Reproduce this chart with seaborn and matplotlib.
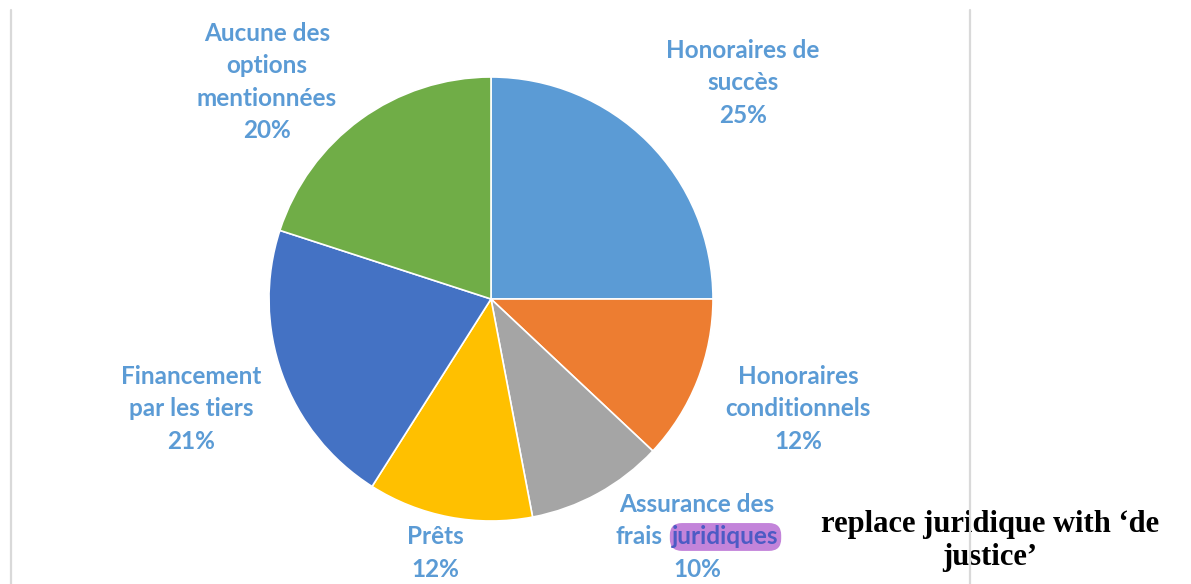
import numpy as np
import pandas as pd
import seaborn as sns
import matplotlib.pyplot as plt
from matplotlib.lines import Line2D

# slice data, clockwise from 12 o'clock
labels = ["Honoraires de\nsuccès", "Honoraires\nconditionnels", "Assurance des\nfrais juridiques",
          "Prêts", "Financement\npar les tiers", "Aucune des\noptions\nmentionnées"]
shares = [25, 12, 10, 12, 21, 20]
colors = ["#5B9BD5", "#ED7D31", "#A5A5A5", "#FFC000", "#4472C4", "#70AD47"]

# label anchor points (in pie radius units)
label_x = [1.135, 1.383, 0.928, -0.252, -1.351, -1.009]
label_y = [0.973, -0.495, -1.072, -1.144, -0.495, 0.977]

highlight_idx = 2  # label with the highlighted word
note = "replace juridique with \u2018de\njustice\u2019"

sns.set_theme(style="white")
plt.rcParams['font.family'] = ['Lato', 'DejaVu Sans']

W, H = 1191, 584
fig = plt.figure(figsize=(W / 100, H / 100), dpi=100)
ax = fig.add_axes([0, 0, 1, 1])

df = pd.DataFrame({"label": labels, "share": shares})
ax.pie(df["share"], colors=colors, startangle=90, counterclock=False,
       wedgeprops={"linewidth": 1.2, "edgecolor": "white"})

# map the pie so that centre sits at (491, 299) px and radius is 222 px
r_px, cx, cy = 222, 491, 299
ax.set_aspect('auto')
ax.set_xlim(-cx / r_px, (W - cx) / r_px)
ax.set_ylim(-(H - cy) / r_px, cy / r_px)
ax.axis('off')

lab_color = "#5B9BD5"
fs = 17.5
for i, (lab, s, x, y) in enumerate(zip(df["label"], df["share"], label_x, label_y)):
    if i == highlight_idx:
        continue
    ax.text(x, y, f"{lab}\n{s}%", ha='center', va='center', color=lab_color,
            fontsize=fs, fontweight='bold', linespacing=1.5)

# Assurance label drawn line by line so "juridiques" can be highlighted
fig.canvas.draw()
renderer = fig.canvas.get_renderer()
def width_px(s):
    t = ax.text(0, 0, s, fontsize=fs, fontweight='bold')
    w = t.get_window_extent(renderer).width
    t.remove()
    return w

inv = ax.transData.inverted()
line_h = 32.5
top, mid = labels[highlight_idx].split("\n")
word1, word2 = mid.split(" ")
px0, py0 = ax.transData.transform((label_x[highlight_idx], label_y[highlight_idx]))

for txt, dy in ((top, line_h), (f"{shares[highlight_idx]}%", -line_h)):
    xx, yy = inv.transform((px0, py0 + dy))
    ax.text(xx, yy, txt, ha='center', va='center', color=lab_color,
            fontsize=fs, fontweight='bold')

gap = 10
w1, w2 = width_px(word1), width_px(word2)
left = px0 - (w1 + gap + w2) / 2
xa, ya = inv.transform((left, py0))
xb, _ = inv.transform((left + w1 + gap, py0))
ax.text(xa, ya, word1, ha='left', va='center', color=lab_color,
        fontsize=fs, fontweight='bold')
ax.text(xb, ya, word2, ha='left', va='center', color="#4D5BC4",
        fontsize=fs, fontweight='bold', zorder=5,
        bbox=dict(boxstyle="round,pad=0.1,rounding_size=0.5", facecolor="#C384DA", edgecolor="none"))

fig.text(990 / W, 1 - 541 / H, note, ha='center', va='center', fontsize=22,
         fontweight='bold', family='Liberation Serif', color='black', linespacing=1.15)

for xp in (11, 970):
    fig.add_artist(Line2D([xp / W, xp / W], [0, 1 - 10 / H], color="#D9D9D9", lw=1.6,
                          transform=fig.transFigure, zorder=10))

fig.savefig("out.png", dpi=100)
